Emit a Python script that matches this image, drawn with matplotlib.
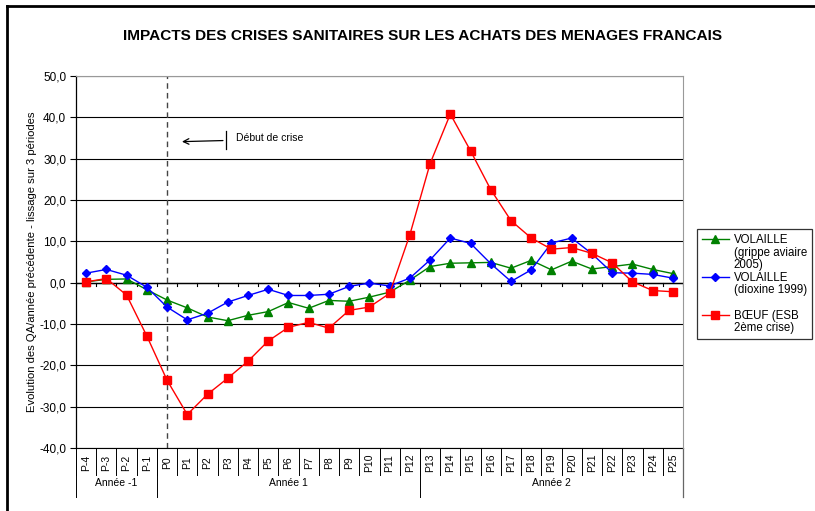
import matplotlib
matplotlib.use("Agg")
import matplotlib.pyplot as plt
from matplotlib.lines import Line2D

plt.rcParams['font.family'] = ['Liberation Sans', 'DejaVu Sans']

# categories (periods) and year groups
periods = ['P-4', 'P-3', 'P-2', 'P-1'] + ['P%d' % i for i in range(0, 26)]
groups = ['Année -1', 'Année 1', 'Année 2']
group_sizes = [4, 13, 13]

# series values
volaille_2005 = [0.2, 0.8, 0.9, -1.7, -4.2, -6.1, -8.3, -9.2, -7.9, -7.0,
                 -4.8, -6.2, -4.3, -4.5, -3.5, -2.3, 0.6, 3.9, 4.7, 4.8,
                 4.9, 3.5, 5.4, 3.1, 5.2, 3.3, 3.9, 4.5, 3.2, 2.2]
volaille_1999 = [2.3, 3.2, 1.8, -1.1, -5.9, -9.0, -7.4, -4.7, -3.1, -1.6,
                 -3.1, -3.1, -2.8, -0.9, -0.1, -0.8, 1.1, 5.5, 10.8, 9.5,
                 4.6, 0.3, 3.1, 9.6, 10.8, 7.0, 2.4, 2.3, 2.0, 1.1]
boeuf_esb = [0.2, 1.0, -3.0, -12.9, -23.6, -31.9, -27.0, -23.1, -19.0, -14.1,
             -10.8, -9.6, -11.0, -6.7, -5.9, -2.6, 11.6, 28.8, 40.8, 31.9,
             22.5, 15.0, 10.8, 8.1, 8.5, 7.1, 4.8, 0.2, -1.9, -2.2]

# legend text, one item per line (Excel wraps it this way)
leg_green = ['VOLAILLE', '(grippe aviaire', '2005)']
leg_blue = ['VOLAILLE', '(dioxine 1999)']
leg_red = ['BŒUF (ESB', '2ème crise)']

W, H = 815, 511
fig = plt.figure(figsize=(W / 100, H / 100), dpi=100)
ax = fig.add_axes([76 / W, (H - 448) / H, (683 - 76) / W, (448 - 76) / H])

x = list(range(len(periods)))

l1, = ax.plot(x, volaille_2005, color='#008000', marker='^', markersize=5.5,
              lw=1, zorder=3)
l2, = ax.plot(x, volaille_1999, color='#0000FF', marker='D', markersize=4,
              lw=1, zorder=4)
l3, = ax.plot(x, boeuf_esb, color='#FF0000', marker='s', markersize=5.5,
              lw=1, zorder=5)

ax.set_xlim(-0.5, len(periods) - 0.5)
ax.set_ylim(-40, 50)
ax.set_yticks(range(-40, 51, 10))
ax.yaxis.set_major_formatter(matplotlib.ticker.FuncFormatter(
    lambda v, p: ('%.1f' % v).replace('.', ',')))
ax.tick_params(axis='y', direction='out', length=4, width=0.8, labelsize=8.5, pad=3)
ax.grid(axis='y', color='black', lw=0.8, zorder=1)
ax.axhline(0, color='black', lw=1, zorder=2)

# category ticks on the zero line
for b in range(len(periods) + 1):
    ax.plot([b - 0.5, b - 0.5], [0, -0.9], color='black', lw=0.8, zorder=2)

for s in ['top', 'right']:
    ax.spines[s].set_color('#999999')
ax.spines['bottom'].set_visible(False)
ax.spines['left'].set_linewidth(0.9)

# category labels below the plot (two levels: periods, then years)
ax.set_xticks(x)
ax.set_xticklabels([])
ax.tick_params(axis='x', length=0)
tr = ax.get_xaxis_transform()
for i, p in enumerate(periods):
    ax.text(i, -0.04, p, rotation=90, ha='center', va='center',
            fontsize=7.5, transform=tr)
for b in range(len(periods) + 1):
    ax.plot([b - 0.5, b - 0.5], [0, -0.073], color='black', lw=0.7,
            transform=tr, clip_on=False)
ax.plot([-0.5, len(periods) - 0.5], [0, 0], color='black', lw=0.8,
        transform=tr, clip_on=False)
start = 0
for g, n in zip(groups, group_sizes):
    ax.plot([start - 0.5, start - 0.5], [0, -0.132], color='black', lw=0.7,
            transform=tr, clip_on=False)
    ax.text(start + n / 2 - 0.5, -0.095, g, ha='center', va='center',
            fontsize=7.5, transform=tr)
    start += n
ax.plot([start - 0.5, start - 0.5], [0, -0.132], color='#666666', lw=0.9,
        transform=tr, clip_on=False)

# start of crisis
ax.axvline(4, color='#444444', lw=1, ls=(0, (4, 3)), zorder=2)
ax.annotate('', xy=(4.6, 34.1), xytext=(6.9, 34.4),
            arrowprops=dict(arrowstyle='->', color='black', lw=0.9))
ax.plot([6.9, 6.9], [32.4, 36.6], color='black', lw=0.9)
ax.text(7.4, 35.1, 'Début de crise', fontsize=7.5, va='center')

ax.set_ylabel('Evolution des QA/année précédente - lissage sur 3 périodes',
              fontsize=8.1, labelpad=1.5)

fig.text(0.518, 1 - 36 / H,
         'IMPACTS DES CRISES SANITAIRES SUR LES ACHATS DES MENAGES FRANCAIS',
         ha='center', va='center', fontsize=11.1, fontweight='bold')

# legend: marker on the first line of each entry, like Excel
blank = Line2D([], [], color='none')
handles, labels = [], []
for line, txt in [(l1, leg_green), (l2, leg_blue), (l3, leg_red)]:
    for k, t in enumerate(txt):
        handles.append(line if k == 0 else blank)
        labels.append(t)
    if line is l2:
        # empty row before the last entry
        handles.append(blank)
        labels.append(' ')
leg = ax.legend(handles, labels, loc='upper left', bbox_to_anchor=(1.023, 0.589),
                borderaxespad=0, fontsize=8.3, frameon=True, fancybox=False,
                handlelength=2.3, labelspacing=0.05, borderpad=0.45,
                handletextpad=0.45)
leg.get_frame().set_edgecolor('black')
leg.get_frame().set_linewidth(0.9)

# outer border of the chart
fig.add_artist(Line2D([7 / W, 7 / W], [0, 1 - 6 / H], color='black', lw=2))
fig.add_artist(Line2D([7 / W, 1], [1 - 6 / H, 1 - 6 / H], color='black', lw=2))

fig.savefig('out.png', dpi=100)
